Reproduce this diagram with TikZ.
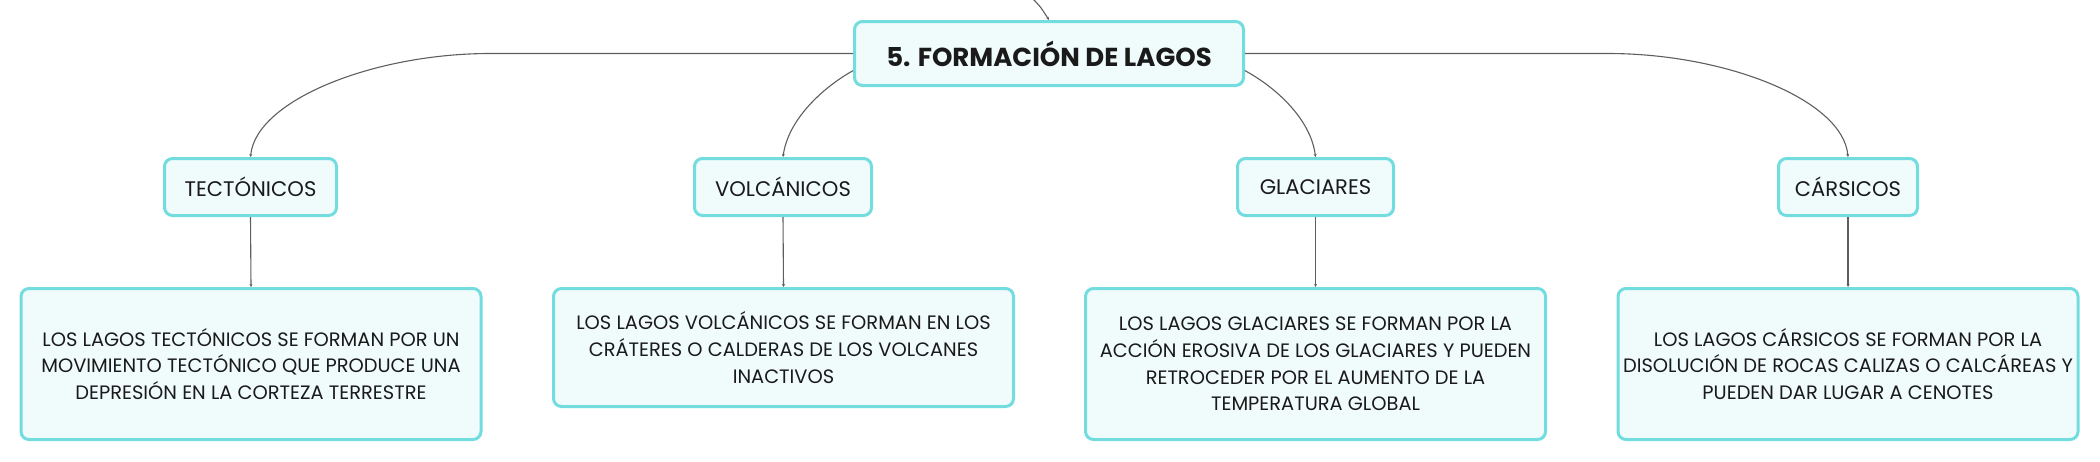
\documentclass[tikz,border=0pt]{standalone}
\usepackage{fontspec}
\setmainfont{Poppins}
\usetikzlibrary{arrows.meta}
\definecolor{bordc}{HTML}{72DCDF}
\definecolor{fillc}{HTML}{F0FBFC}
\definecolor{linec}{HTML}{5E5E5E}
\definecolor{txtc}{HTML}{1A1A1A}
\tikzset{
  box/.style={draw=bordc, fill=fillc, line width=3pt, rounded corners=8pt,
    text=txtc, align=center, inner sep=0pt},
  mainbox/.style={box, minimum width=389pt, minimum height=64pt,
    font=\fontsize{26}{30}\selectfont\bfseries},
  subbox/.style={box, minimum height=57pt, font=\fontsize{21.1}{24}\selectfont},
  descbox/.style={box, minimum width=460pt, font=\fontsize{19.4}{26.8}\selectfont},
  conn/.style={draw=linec, line width=1.1pt, -{Stealth[length=3pt,width=3pt]}},
}
\begin{document}
\begin{tikzpicture}[x=1pt,y=-1pt]
\useasboundingbox (0,0) rectangle (2100,461);
\node[mainbox] (main) at (1049,53.5) {5. FORMACIÓN DE LAGOS};

\node[subbox, minimum width=172pt] (tec) at (250.5,187) {TECTÓNICOS};
\node[subbox, minimum width=177pt] (vol) at (783,187) {VOLCÁNICOS};
\node[subbox, minimum width=156pt] (gla) at (1315.5,187) {GLACIARES};
\node[subbox, minimum width=139pt] (car) at (1848,187) {CÁRSICOS};

\node[descbox, minimum height=151pt] (dtec) at (251,364) {LOS LAGOS TECTÓNICOS SE FORMAN POR UN\\MOVIMIENTO TECTÓNICO QUE PRODUCE UNA\\DEPRESIÓN EN LA CORTEZA TERRESTRE};
\node[descbox, minimum height=118pt] (dvol) at (783.5,347.5) {LOS LAGOS VOLCÁNICOS SE FORMAN EN LOS\\CRÁTERES O CALDERAS DE LOS VOLCANES\\INACTIVOS};
\node[descbox, minimum height=151pt] (dgla) at (1315.5,364) {LOS LAGOS GLACIARES SE FORMAN POR LA\\ACCIÓN EROSIVA DE LOS GLACIARES Y PUEDEN\\RETROCEDER POR EL AUMENTO DE LA\\TEMPERATURA GLOBAL};
\node[descbox, minimum height=151pt] (dcar) at (1848,364) {LOS LAGOS CÁRSICOS SE FORMAN POR LA\\DISOLUCIÓN DE ROCAS CALIZAS O CALCÁREAS Y\\PUEDEN DAR LUGAR A CENOTES};

\coordinate (top) at (1031,-3);
\coordinate (kl) at (490,53.5);
\coordinate (kr) at (1608,53.5);

\draw[conn] (top) .. controls (1040,6) .. (main.north);
\draw[conn] (main.west) -- (kl) .. controls (374,53.5) and (256,100) .. (tec.north);
\draw[conn] (main.185) .. controls (822,88) and (788,120) .. (vol.north);
\draw[conn] (main.-5) .. controls (1277,88) and (1311,120) .. (gla.north);
\draw[conn] (main.east) -- (kr) .. controls (1726,53.5) and (1843,100) .. (car.north);

\draw[conn] (tec.south) -- (dtec.north);
\draw[conn] (vol.south) -- (dvol.north);
\draw[conn] (gla.south) -- (dgla.north);
\draw[conn] (car.south) -- (dcar.north);
\end{tikzpicture}
\end{document}
